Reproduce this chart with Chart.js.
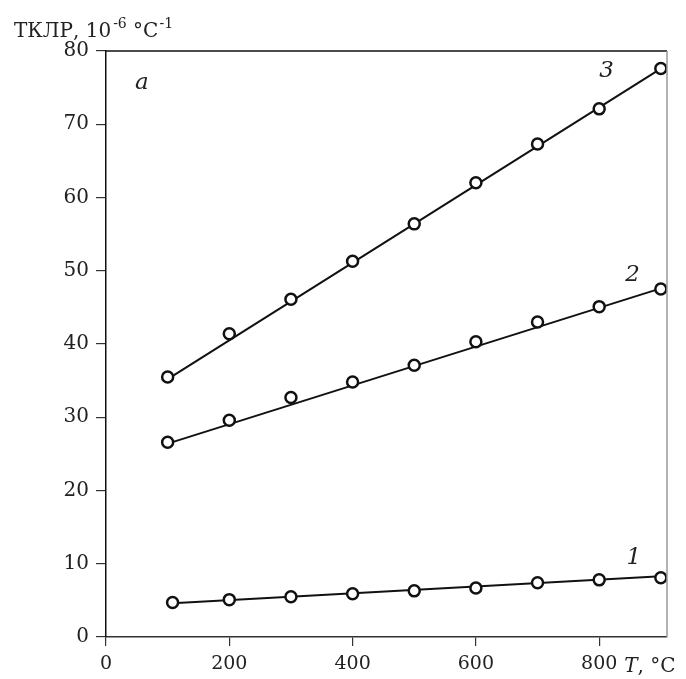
<!DOCTYPE html>
<html>
<head>
<meta charset="utf-8">
<script src="https://cdn.jsdelivr.net/npm/chart.js@4.4.1/dist/chart.umd.min.js"></script>
<style>
  html, body { margin: 0; padding: 0; background: #fff; }
  #wrap { width: 686px; height: 679px; }
</style>
</head>
<body>
<div id="wrap"><canvas id="grafico"></canvas></div>
<script>
// temperatures, °C
const temp = [100, 200, 300, 400, 500, 600, 700, 800, 900];
const temp1 = [108, 200, 300, 400, 500, 600, 700, 800, 900];
// TCLE, 10^-6 °C^-1
const serie1 = [4.7, 5.1, 5.5, 5.9, 6.3, 6.7, 7.4, 7.8, 8.1];
const serie2 = [26.6, 29.6, 32.7, 34.8, 37.1, 40.3, 43.0, 45.1, 47.5];
const serie3 = [35.5, 41.4, 46.1, 51.3, 56.4, 62.0, 67.3, 72.1, 77.6];
// fitted straight lines (end points)
const fitX = [100, 900];
const fitX1 = [108, 900];
const fit1 = [4.6, 8.3];
const fit2 = [26.4, 47.6];
const fit3 = [35.2, 77.6];
const xTicks = [0, 200, 400, 600, 800];
const yTicks = [0, 10, 20, 30, 40, 50, 60, 70, 80];

const serif = "'DejaVu Serif', 'Liberation Serif', serif";

function pts(xs, ys) { return xs.map((x, i) => ({ x: x, y: ys[i] })); }

function pontos(xs, ys) {
    return {
        type: "scatter",
        data: pts(xs, ys),
        showLine: false,
        pointRadius: 5.5,
        pointBorderWidth: 2.5,
        pointBorderColor: "#111",
        pointBackgroundColor: "#fff",
        order: 1
    };
}
function reta(xs, ys) {
    return {
        type: "line",
        data: pts(xs, ys),
        borderColor: "#111",
        borderWidth: 2,
        pointRadius: 0,
        order: 2
    };
}

const textos = {
    id: "textos",
    afterDraw(chart) {
        const ctx = chart.ctx;
        const a = chart.chartArea;
        const x = chart.scales.x, y = chart.scales.y;
        ctx.save();
        // top and right frame
        ctx.lineWidth = 1.5;
        ctx.strokeStyle = "#111";
        ctx.beginPath(); ctx.moveTo(a.left, a.top); ctx.lineTo(a.right, a.top); ctx.stroke();
        ctx.strokeStyle = "#999";
        ctx.beginPath(); ctx.moveTo(a.right, a.top); ctx.lineTo(a.right, a.bottom); ctx.stroke();

        ctx.fillStyle = "#222";
        ctx.textBaseline = "alphabetic";
        // y title
        let px = 14, py = 37;
        ctx.font = "20px " + serif;
        ctx.textAlign = "left";
        ctx.fillText("ТКЛР, 10", px, py); px += ctx.measureText("ТКЛР, 10").width;
        ctx.font = "14px " + serif;
        ctx.fillText("-6", px + 2, py - 9); px += ctx.measureText("-6").width + 2;
        ctx.font = "20px " + serif;
        ctx.fillText(" °C", px, py); px += ctx.measureText(" °C").width;
        ctx.font = "14px " + serif;
        ctx.fillText("-1", px + 1, py - 9);

        // x title
        let tx = x.getPixelForValue(800) + 25, ty = a.bottom + 35;
        ctx.font = "italic 20px " + serif;
        ctx.fillText("T", tx, ty); tx += ctx.measureText("T").width;
        ctx.font = "20px " + serif;
        ctx.fillText(", °C", tx, ty);

        // curve labels
        ctx.font = "italic 23px " + serif;
        ctx.textAlign = "center";
        ctx.fillText("a", x.getPixelForValue(58), y.getPixelForValue(74.8));
        ctx.fillText("3", x.getPixelForValue(812), y.getPixelForValue(76.4));
        ctx.fillText("2", x.getPixelForValue(854), y.getPixelForValue(48.6));
        ctx.fillText("1", x.getPixelForValue(856), y.getPixelForValue(10.0));
        ctx.restore();
    }
};

new Chart(document.getElementById("grafico"), {
    type: "scatter",
    data: {
        datasets: [
            reta(fitX1, fit1), reta(fitX, fit2), reta(fitX, fit3),
            pontos(temp1, serie1), pontos(temp, serie2), pontos(temp, serie3)
        ]
    },
    options: {
        responsive: true,
        maintainAspectRatio: false,
        animation: false,
        layout: { padding: { left: 0, top: 51, right: 19, bottom: 0 } },
        plugins: { legend: { display: false }, tooltip: { enabled: false } },
        scales: {
            x: {
                type: "linear",
                min: 0, max: 910,
                afterBuildTicks: s => { s.ticks = xTicks.map(v => ({ value: v })); },
                afterFit: s => { s.height = 42; },
                border: { display: true, color: "#333", width: 1.5 },
                grid: { drawOnChartArea: false, drawTicks: true, tickLength: 9, color: "#333", lineWidth: 1.2 },
                ticks: { color: "#222", font: { family: serif, size: 19 }, padding: 7, maxRotation: 0 }
            },
            y: {
                type: "linear",
                min: 0, max: 80,
                afterBuildTicks: s => { s.ticks = yTicks.map(v => ({ value: v })); },
                afterFit: s => { s.width = 106; },
                border: { display: true, color: "#111", width: 1.5 },
                grid: { drawOnChartArea: false, drawTicks: true, tickLength: 10, color: "#333", lineWidth: 1.2 },
                ticks: { color: "#222", font: { family: serif, size: 20 }, padding: 7 }
            }
        }
    },
    plugins: [textos]
});
</script>
</body>
</html>
